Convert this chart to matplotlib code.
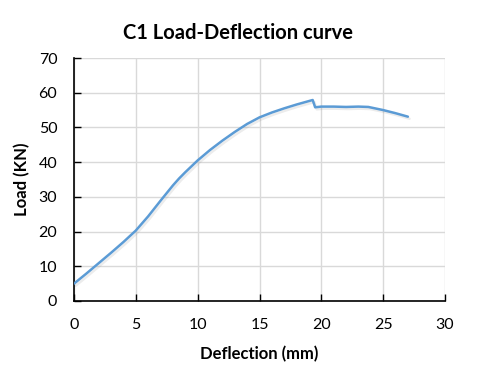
import matplotlib
matplotlib.use("Agg")
import matplotlib.pyplot as plt
import matplotlib.patheffects as pe

deflection = [0, 1, 2, 3, 4, 5, 6, 7, 7.5, 8, 8.5, 9, 10, 11, 12, 13, 14, 15, 16, 17, 18,
              19.3, 19.5, 20, 21, 22, 23, 23.8, 25, 26, 27]
load = [5.0, 7.9, 10.9, 13.9, 17.0, 20.3, 24.4, 28.9, 31.1, 33.3, 35.3, 37.1, 40.5, 43.5, 46.2,
        48.7, 51.0, 52.9, 54.3, 55.5, 56.6, 57.9, 55.8, 56.0, 56.0, 55.9, 56.0,
        55.9, 55.0, 54.1, 53.1]
xticks = [0, 5, 10, 15, 20, 25, 30]
yticks = [0, 10, 20, 30, 40, 50, 60, 70]

plt.rcParams['font.family'] = ['Lato', 'DejaVu Sans']

fig = plt.figure(figsize=(4.78, 3.71), dpi=100)
ax = fig.add_axes([74/478, 1-301/371, (445-74)/478, (301-58)/371])

ax.plot(deflection, load, color='#5B9BD5', lw=1.8, solid_joinstyle='round',
        solid_capstyle='round',
        path_effects=[pe.SimpleLineShadow(offset=(1.2, -1.5), shadow_color='gray', alpha=0.15),
                      pe.Normal()], zorder=3)

ax.set_xlim(0, 30)
ax.set_ylim(0, 70)
ax.set_xticks(xticks)
ax.set_yticks(yticks)
ax.grid(True, color='#D9D9D9', lw=1)
ax.set_axisbelow(True)
for s in ['top', 'right']:
    ax.spines[s].set_visible(False)
for s in ['left', 'bottom']:
    ax.spines[s].set_color('black')
    ax.spines[s].set_linewidth(1.2)
ax.tick_params(direction='in', length=5, width=1, colors='black', labelsize=11.5)
ax.tick_params(axis='x', pad=12)
ax.tick_params(axis='y', pad=12)

fig.text(238/478, 1-33/371, 'C1 Load-Deflection curve', ha='center', va='center',
         fontsize=14.5, fontweight='bold')
ax.set_xlabel('Deflection (mm)', fontsize=12, fontweight='bold', labelpad=10)
ax.set_ylabel('Load (KN)', fontsize=12, fontweight='bold', labelpad=6)

fig.savefig('out.png', dpi=100)
